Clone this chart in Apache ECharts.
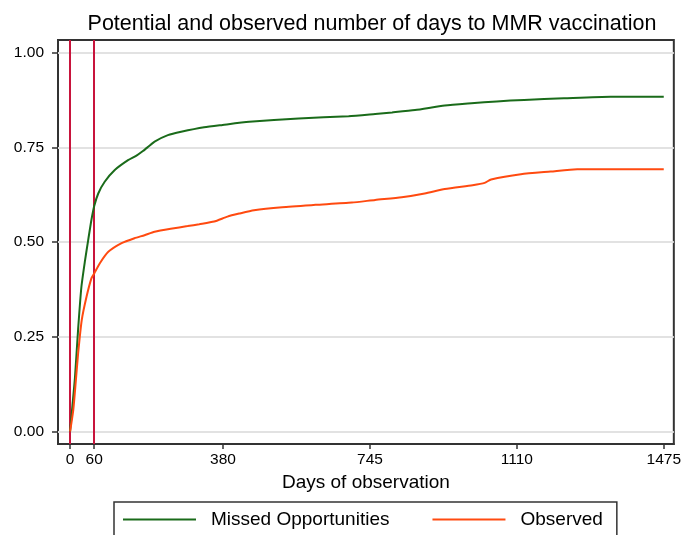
<!DOCTYPE html>
<html>
<head>
<meta charset="utf-8">
<script src="https://cdn.jsdelivr.net/npm/echarts@6/dist/echarts.min.js"></script>
<style>html,body{margin:0;padding:0;background:#fff}#c{width:684px;height:535px}</style>
</head>
<body>
<div id="c"></div>
<script>
const titleText = "Potential and observed number of days to MMR vaccination";
const xAxisName = "Days of observation";
const seriesNames = ["Missed Opportunities", "Observed"];
const xTicks = [0, 60, 380, 745, 1110, 1475];
const yTicks = [0, 0.25, 0.5, 0.75, 1];
const refDays = [0, 60];

const missedDays = [0, 6, 12, 20, 28, 37, 45, 53, 60, 70, 86, 111, 144, 165, 181, 195, 210, 243, 276, 333, 379, 445, 568, 692, 758, 800, 857, 931, 997, 1060, 1128, 1227, 1343, 1475];
const missedValues = [0, 0.07, 0.14, 0.27, 0.38, 0.45, 0.505, 0.558, 0.595, 0.628, 0.659, 0.690, 0.716, 0.728, 0.740, 0.752, 0.765, 0.782, 0.791, 0.803, 0.809, 0.817, 0.826, 0.832, 0.838, 0.842, 0.848, 0.860, 0.866, 0.871, 0.875, 0.879, 0.883, 0.883];

const observedDays = [0, 8, 14, 20, 29, 41, 53, 60, 74, 95, 128, 160, 185, 210, 250, 292, 321, 358, 391, 420, 457, 527, 610, 700, 758, 824, 881, 931, 1000, 1030, 1046, 1120, 1194, 1260, 1475];
const observedValues = [0, 0.057, 0.13, 0.206, 0.294, 0.356, 0.404, 0.417, 0.444, 0.474, 0.497, 0.510, 0.518, 0.527, 0.535, 0.542, 0.547, 0.554, 0.567, 0.575, 0.584, 0.592, 0.598, 0.604, 0.611, 0.618, 0.628, 0.640, 0.650, 0.656, 0.665, 0.679, 0.686, 0.692, 0.692];

const FONT = "'Liberation Sans', Arial, Helvetica, sans-serif";
const chart = echarts.init(document.getElementById('c'), null, {renderer: 'canvas'});

const zip = (xs, ys) => xs.map((x, i) => [x, ys[i]]);

chart.setOption({
  animation: false,
  backgroundColor: '#fff',
  title: {
    text: titleText,
    left: 367,
    top: 8,
    textAlign: 'center',
    textStyle: {fontFamily: FONT, fontSize: 21.5, fontWeight: 'normal', color: '#000'}
  },
  grid: {left: 58, right: 7, top: 40, bottom: 91, show: true, borderColor: '#333', borderWidth: 2, containLabel: false},
  xAxis: {
    type: 'value', min: -30, max: 1500,
    name: xAxisName, nameLocation: 'middle', nameGap: 28,
    nameTextStyle: {fontFamily: FONT, fontSize: 19, color: '#000'},
    axisLine: {show: true, onZero: false, lineStyle: {color: '#333', width: 2}},
    axisTick: {show: true, inside: false, length: 5, customValues: xTicks, lineStyle: {color: '#333', width: 1.5}},
    axisLabel: {customValues: xTicks, margin: 8, fontFamily: FONT, fontSize: 15.5, color: '#000', formatter: v => String(v)},
    splitLine: {show: false}
  },
  yAxis: {
    type: 'value', min: -0.033, max: 1.033,
    axisLine: {show: true, onZero: false, lineStyle: {color: '#333', width: 2}},
    axisTick: {show: true, inside: false, length: 6, customValues: yTicks, lineStyle: {color: '#333', width: 1.5}},
    axisLabel: {customValues: yTicks, margin: 14, fontFamily: FONT, fontSize: 15.5, color: '#000', formatter: v => v.toFixed(2)},
    splitLine: {show: false}
  },
  legend: {
    data: seriesNames,
    left: 114, top: 502,
    icon: 'rect', itemWidth: 73, itemHeight: 2, itemGap: 43,
    borderColor: '#333', borderWidth: 1.5, borderRadius: 0,
    padding: [8, 14, 22, 9],
    textStyle: {fontFamily: FONT, fontSize: 19, color: '#000', padding: [0, 0, 0, 10]}
  },
  series: [
    {
      name: 'gridlines', type: 'line', data: [], z: 1, silent: true,
      markLine: {
        silent: true, symbol: 'none', label: {show: false}, z: 1,
        lineStyle: {color: '#e2e2e2', width: 2, type: 'solid'},
        data: yTicks.map(v => ({yAxis: v}))
      }
    },
    {
      name: 'reflines', type: 'line', data: [], z: 2, silent: true,
      markLine: {
        silent: true, symbol: 'none', label: {show: false}, z: 2,
        lineStyle: {color: '#c8143c', width: 2, type: 'solid'},
        data: refDays.map(v => ({xAxis: v}))
      }
    },
    {
      name: seriesNames[0], type: 'line', data: zip(missedDays, missedValues),
      symbol: 'none', smooth: 0.2, z: 3,
      lineStyle: {color: '#1a6b1a', width: 2}, itemStyle: {color: '#1a6b1a'}
    },
    {
      name: seriesNames[1], type: 'line', data: zip(observedDays, observedValues),
      symbol: 'none', smooth: 0.2, z: 3,
      lineStyle: {color: '#ff4a10', width: 2}, itemStyle: {color: '#ff4a10'}
    }
  ]
});
</script>
</body>
</html>
